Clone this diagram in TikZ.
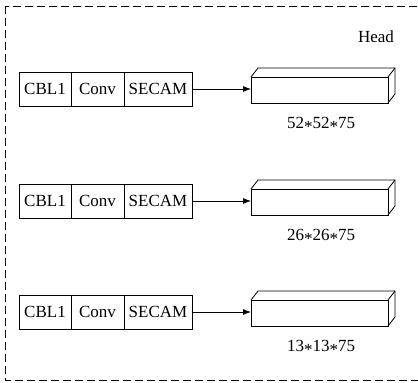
\documentclass[tikz,border=0pt]{standalone}
\usepackage{fontspec}
\setmainfont{Liberation Serif}
\usetikzlibrary{arrows.meta,positioning}
\newcommand{\mulsym}{\raisebox{-0.22em}{*}}

\begin{document}
\begin{tikzpicture}[x=1pt,y=-1pt,font=\fontsize{17}{20}\selectfont,line width=0.8pt,
  cell/.style={draw,minimum height=34pt,inner sep=0pt,outer sep=0pt,anchor=west},
  feat/.style={draw,minimum width=137pt,minimum height=26pt,inner sep=0pt,outer sep=0pt,anchor=west}]
\useasboundingbox (0,0) rectangle (418,383);
\draw[dash pattern=on 8pt off 4pt] (5,6) rectangle (425,380);
\node (head) at (376,37) {Head};
\foreach \y/\sz in {89/52, 201/26, 312/13}{
  \node[cell,minimum width=52pt] (cbl\sz) at (19,\y) {CBL1};
  \node[cell,minimum width=53pt,right=0pt of cbl\sz] (conv\sz) {Conv};
  \node[cell,minimum width=68pt,right=0pt of conv\sz] (secam\sz) {SECAM};
  \node[feat] (fm\sz) at (251,\y+1) {};
  \draw (fm\sz.north west) -- ++(7,-9) -- ++(137,0) -- ++(0,26) -- (fm\sz.south east);
  \draw (fm\sz.north east) -- ++(7,-9);
  \draw[-{Latex[length=8pt,width=6pt]}] (secam\sz) -- (secam\sz -| fm\sz.west);
  \node (lbl\sz) at (321,\y+36) {\sz\mulsym\sz\mulsym75};
}
\end{tikzpicture}
\end{document}
